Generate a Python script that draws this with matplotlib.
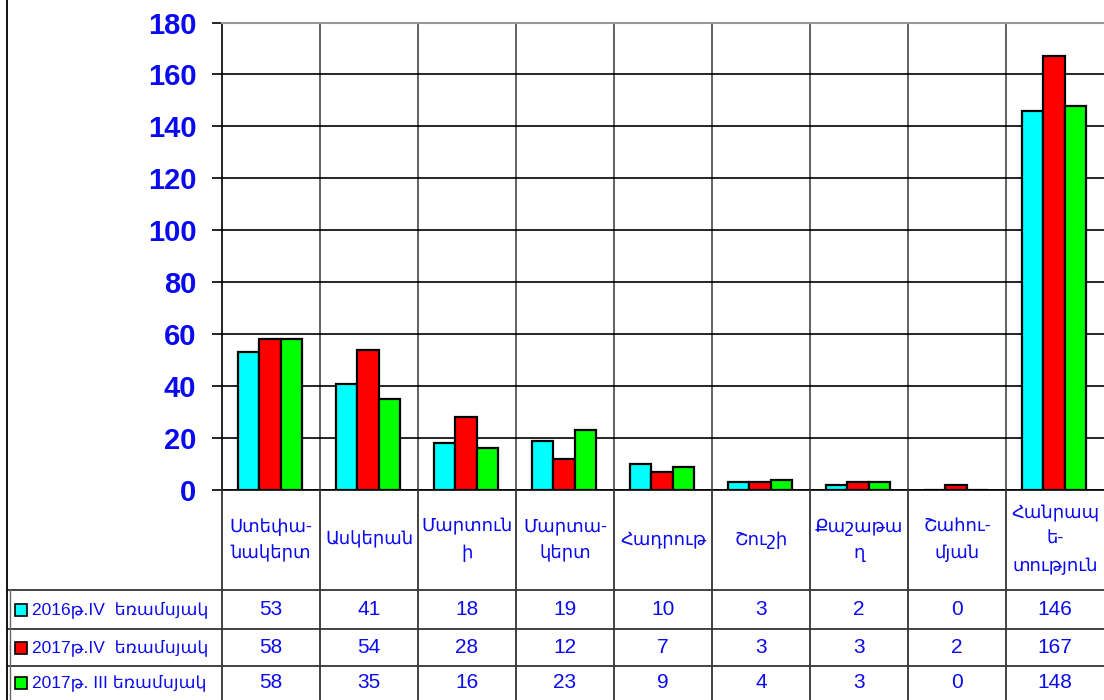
import numpy as np
import matplotlib.pyplot as plt
from matplotlib.patches import Rectangle
from matplotlib.lines import Line2D
from matplotlib.transforms import blended_transform_factory


regions = ["Ստեփա-\nնակերտ", "Ասկերան", "Մարտուն\nի", "Մարտա-\nկերտ", "Հադրութ",
           "Շուշի", "Քաշաթա\nղ", "Շահու-\nմյան", "Հանրապ\nե-\nտություն"]
series_names = ["2016թ.IV  եռամսյակ", "2017թ.IV  եռամսյակ", "2017թ. III եռամսյակ"]
q4_2016 = [53, 41, 18, 19, 10, 3, 2, 0, 146]
q4_2017 = [58, 54, 28, 12, 7, 3, 3, 2, 167]
q3_2017 = [58, 35, 16, 23, 9, 4, 3, 0, 148]
colors = ["#00ffff", "#ff0000", "#00ff00"]
blue = "#0a0af0"

plt.rcParams['font.family'] = ['Liberation Sans', 'DejaVu Sans']

W, H = 1104, 700
fig = plt.figure(figsize=(W / 100, H / 100), dpi=100)
ax = fig.add_axes([222 / W, 210 / H, 882 / W, 467.5 / H])

x = np.arange(len(regions))
bw = 0.22
for k, vals in enumerate([q4_2016, q4_2017, q3_2017]):
    ax.bar(x + (k - 1) * bw - 0.01, vals, bw, color=colors[k], edgecolor="black",
           linewidth=1.6, zorder=3)

ax.set_xlim(-0.5, len(regions) - 0.5)
ax.set_ylim(0, 180)
ax.set_yticks(np.arange(0, 181, 20))
ax.set_xticks([])
ax.tick_params(axis="y", length=7.5, width=1.2, pad=11, labelsize=21,
               labelcolor=blue)
for lab in ax.get_yticklabels():
    lab.set_fontweight("bold")
ax.yaxis.grid(True, color="black", linewidth=1.2, zorder=1)
for b in np.arange(0.5, len(regions) - 0.5, 1):
    ax.axvline(b, color="#555555", linewidth=1.3, zorder=1)
ax.spines["right"].set_visible(False)
ax.spines["top"].set_color("#999999")
ax.spines["top"].set_linewidth(1.5)
ax.spines["left"].set_linewidth(1.2)
ax.spines["bottom"].set_linewidth(1.2)

# data table under the plot
tr = blended_transform_factory(ax.transData, fig.transFigure)
def fy(py):
    return 1 - py / H

row_tops = [590, 629, 666, 700]
for b in np.arange(-0.5, len(regions) - 0.5, 1):
    fig.add_artist(Line2D([b, b], [fy(490), fy(700)], transform=tr,
                          color="#333333", linewidth=1.3))
for py in row_tops[:-1]:
    fig.add_artist(Line2D([8 / W, 1], [fy(py), fy(py)], transform=fig.transFigure,
                          color="#333333", linewidth=1.3))
# outer left border and label column edge
fig.add_artist(Line2D([7 / W, 7 / W], [0, 1], transform=fig.transFigure,
                      color="black", linewidth=1.3))
fig.add_artist(Line2D([10 / W, 10 / W], [fy(590), 0], transform=fig.transFigure,
                      color="#666666", linewidth=1.0))

for i, name in enumerate(regions):
    ax.text(i, fy(540), name, transform=tr, ha="center", va="center",
            color=blue, fontsize=13, linespacing=1.7)

for r, vals in enumerate([q4_2016, q4_2017, q3_2017]):
    yc = fy((row_tops[r] + row_tops[r + 1]) / 2)
    for i, v in enumerate(vals):
        ax.text(i, yc, str(v), transform=tr, ha="center", va="center",
                color=blue, fontsize=15)
    fig.add_artist(Rectangle((15 / W, yc - 6 / H), 12 / W, 12 / H,
                             transform=fig.transFigure, facecolor=colors[r],
                             edgecolor="black", linewidth=1.2))
    fig.text(32 / W, yc, series_names[r], ha="left", va="center",
             color=blue, fontsize=12.5)

fig.savefig("out.png", dpi=100)
